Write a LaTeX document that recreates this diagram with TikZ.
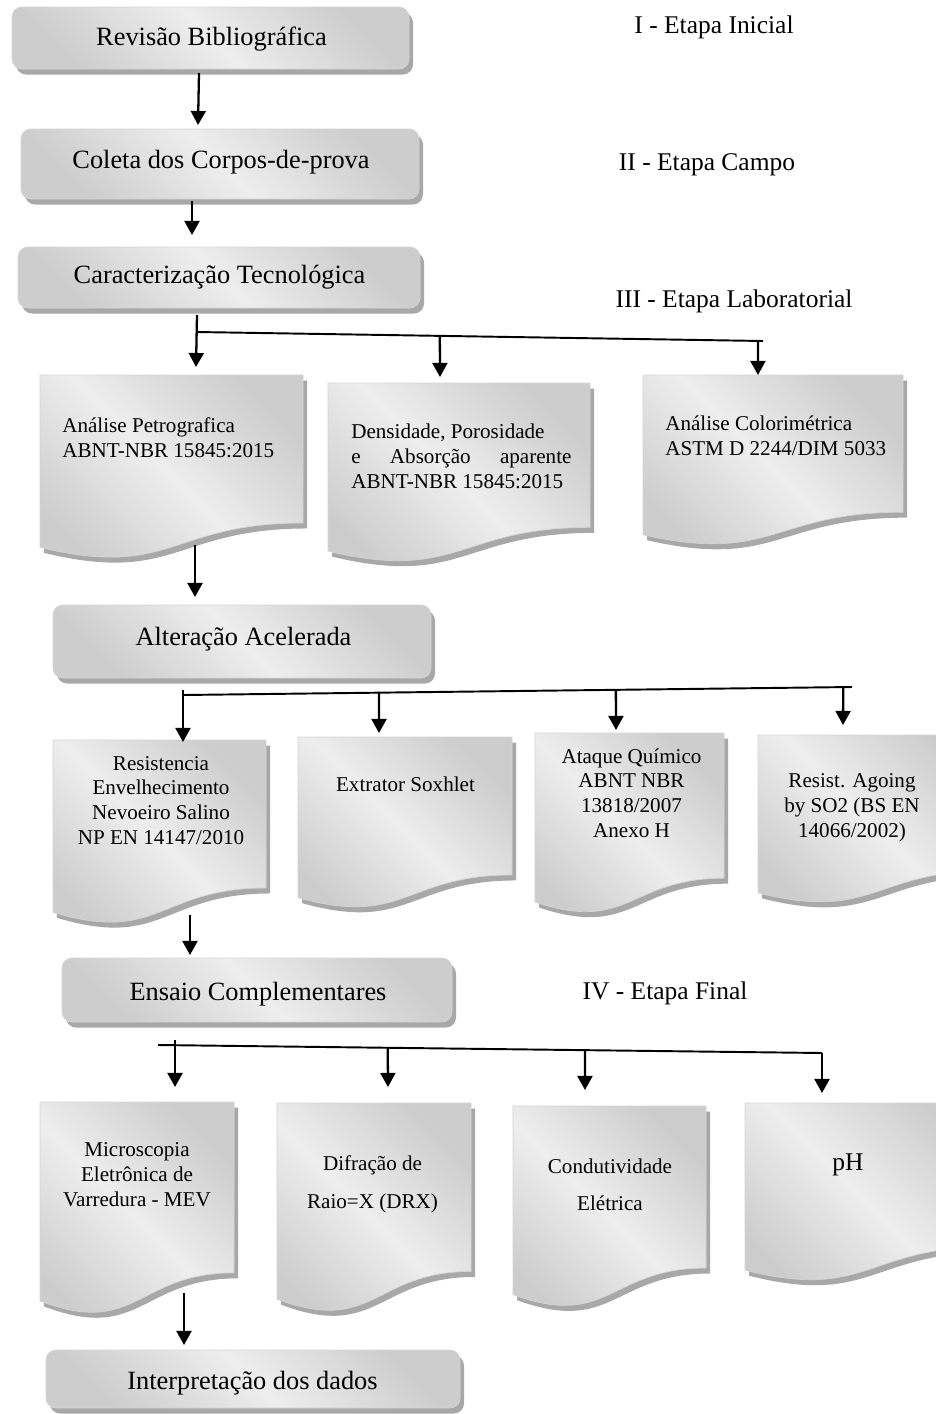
\documentclass[tikz,border=0pt]{standalone}
\usepackage{fontspec}
\setmainfont{Liberation Serif}
\usetikzlibrary{calc,arrows.meta}

\definecolor{shd}{HTML}{CDCDCD}
\definecolor{shl}{HTML}{EEEEEE}
\definecolor{shadowc}{HTML}{A8A8A8}
\definecolor{rimc}{HTML}{D4D4D4}
\pgfdeclarehorizontalshading{softgray}{100bp}{color(0bp)=(shd); color(25bp)=(shd); color(50bp)=(shl); color(75bp)=(shd); color(100bp)=(shd)}

\begin{document}
\begin{tikzpicture}[x=0.02cm,y=-0.02cm,
  frame/.style={rectangle, inner sep=0pt, outer sep=0pt, anchor=north west},
  backshadow/.style={preaction={fill=shadowc, transform canvas={shift={(0.08cm,-0.11cm)}}}},
  stagebox/.style={frame, rounded corners=0.2cm, backshadow, shading=softgray, shading angle=45, draw=rimc, line width=0.4pt},
  wavepath/.style={insert path={(#1.north west) -- (#1.north east)
      -- ($(#1.north east)!0.802!(#1.south east)$)
      .. controls ($(#1.north)!0.802!(#1.south)$) and ($(#1.north)!1.107!(#1.south)$)
      .. ($(#1.north west)!0.934!(#1.south west)$) -- cycle}},
  docshape/.style={wavepath=#1, backshadow, shading=softgray, shading angle=45, draw=rimc, line width=0.4pt},
  lbl/.style={inner sep=0pt, font=\fontsize{15}{18}\selectfont, anchor=base},
  side/.style={inner sep=0pt, font=\fontsize{14.5}{17}\selectfont, anchor=base},
  dtxt/.style={inner sep=0pt, font=\fontsize{12}{14}\selectfont, align=center, anchor=base},
  dtxtl/.style={inner sep=0pt, font=\fontsize{12}{14}\selectfont, align=left, anchor=base west},
  arr/.style={line width=1.3pt, -{Triangle[width=8.5pt,length=8pt]}},
  ln/.style={line width=1.1pt}]

\useasboundingbox (0,0) rectangle (936,1414);

% stage boxes
\node[stagebox, minimum width={397*0.02cm}, minimum height={62*0.02cm}] (rev) at (12,7) {};
\node[stagebox, minimum width={398*0.02cm}, minimum height={70*0.02cm}] (col) at (21,129) {};
\node[stagebox, minimum width={402*0.02cm}, minimum height={61*0.02cm}] (car) at (18,247) {};
\node[stagebox, minimum width={378*0.02cm}, minimum height={73*0.02cm}] (alt) at (53,605) {};
\node[stagebox, minimum width={390*0.02cm}, minimum height={64*0.02cm}] (ens) at (62,958) {};
\node[stagebox, minimum width={414*0.02cm}, minimum height={58*0.02cm}] (int) at (46,1350) {};

% document frames
\node[frame, minimum width={263*0.02cm}, minimum height={184.5*0.02cm}] (docA) at (40,375) {};
\node[frame, minimum width={262*0.02cm}, minimum height={180*0.02cm}] (docB) at (328,383) {};
\node[frame, minimum width={260*0.02cm}, minimum height={171*0.02cm}] (docC) at (643,375) {};
\node[frame, minimum width={213*0.02cm}, minimum height={184.5*0.02cm}] (docD) at (53,740) {};
\node[frame, minimum width={214*0.02cm}, minimum height={172*0.02cm}] (docE) at (298,737) {};
\node[frame, minimum width={189*0.02cm}, minimum height={181*0.02cm}] (docF) at (535,733) {};
\node[frame, minimum width={232*0.02cm}, minimum height={169*0.02cm}] (docG) at (758,735) {};
\node[frame, minimum width={194*0.02cm}, minimum height={213*0.02cm}] (docH) at (40,1102) {};
\node[frame, minimum width={194*0.02cm}, minimum height={210*0.02cm}] (docI) at (277,1103) {};
\node[frame, minimum width={193*0.02cm}, minimum height={202*0.02cm}] (docJ) at (513,1106) {};
\node[frame, minimum width={245*0.02cm}, minimum height={179*0.02cm}] (docK) at (745,1103) {};

\foreach \d in {docA,docB,docC,docD,docE,docF,docG,docH,docI,docJ,docK}
  \shade[docshape=\d];

% stage labels
\node[lbl] (tRev) at (211.5,45) {Revisão Bibliográfica};
\node[lbl] (tCol) at (221,168) {Coleta dos Corpos-de-prova};
\node[lbl] (tCar) at (219.5,283) {Caracterização Tecnológica};
\node[lbl] (tAlt) at (243.5,645) {Alteração Acelerada};
\node[lbl] (tEns) at (258,1000) {Ensaio Complementares};
\node[lbl] (tInt) at (252.5,1389) {Interpretação dos dados};

% phase labels
\node[side] (s1) at (714,33) {I - Etapa Inicial};
\node[side] (s2) at (707,170) {II - Etapa Campo};
\node[side] (s3) at (734,307) {III - Etapa Laboratorial};
\node[side] (s4) at (665,999) {IV - Etapa Final};

% document texts (placed by the baseline of their last line)
\node[dtxtl] (tA) at (62,457) {Análise Petrografica\\ABNT-NBR 15845:2015};
\node[dtxtl] (tB) at (351,488) {Densidade, Porosidade\\\makebox[125.3pt]{e\hfill Absorção\hfill aparente}\\ABNT-NBR 15845:2015};
\node[dtxtl] (tC) at (665,455) {Análise Colorimétrica\\ASTM D 2244/DIM 5033};
\node[dtxt] (tD) at (161,844) {Resistencia\\Envelhecimento\\Nevoeiro Salino\\NP EN 14147/2010};
\node[dtxt] (tE) at (405.5,791) {Extrator Soxhlet};
\node[dtxt] (tF) at (631.5,837) {Ataque Químico\\ABNT NBR\\13818/2007\\Anexo H};
\node[dtxt] (tG) at (852,837) {Resist. Agoing\\by SO2 (BS EN\\14066/2002)};
\node[dtxt] (tH) at (137,1206) {Microscopia\\Eletrônica de\\Varredura - MEV};
\node[dtxt, font=\fontsize{12}{21.5}\selectfont] (tI) at (372.5,1208) {Difração de\\Raio=X (DRX)};
\node[dtxt, font=\fontsize{12}{20.5}\selectfont] (tJ) at (610,1210) {Condutividade\\Elétrica};
\node[dtxt, font=\fontsize{14.5}{17}\selectfont] (tK) at (848,1170) {pH};

% connectors: top chain
\draw[arr] ($(rev.south west)+(187,4)$) -- ($(col.north west)+(177,-4)$);
\draw[arr] ($(col.south west)+(171,2)$) -- ($(car.north west)+(174,-12)$);

% branch to laboratory tests
\coordinate (j1) at (197,332);
\coordinate (j1r) at (763,341);
\draw[ln] (j1) -- (j1r);
\draw[arr] ($(car.south west)+(179,7)$) -- ($(docA.north west)+(156,-8)$);
\draw[arr] ($(j1)!0.429!(j1r)$) -- ($(docB.north west)+(112,-6)$);
\draw[arr] ($(j1)!0.991!(j1r)$) -- ($(docC.north west)+(115,0)$);
\draw[arr] ($(docA.north west)+(155,170)$) -- ($(alt.north west)+(142,-8)$);

% branch to ageing tests
\coordinate (j2) at (183,695);
\coordinate (j2r) at (852,687);
\draw[ln] (j2) -- (j2r);
\draw[arr] ($(alt.south west)+(130,12)$) -- ($(docD.north west)+(130,2)$);
\draw[arr] ($(j2)!0.293!(j2r)$) -- ($(docE.north west)+(81,-4)$);
\draw[arr] ($(j2)!0.647!(j2r)$) -- ($(docF.north west)+(81,-3)$);
\draw[arr] ($(j2)!0.987!(j2r)$) -- ($(docG.north west)+(85,-10)$);
\draw[arr] ($(docD.north west)+(137,175)$) -- ($(ens.north west)+(128,-3)$);

% branch to complementary tests
\coordinate (j3) at (158,1045);
\coordinate (j3r) at (822,1053);
\draw[ln] (j3) -- (j3r);
\draw[arr] ($(ens.south west)+(113,18)$) -- ($(docH.north west)+(135,-15)$);
\draw[arr] ($(j3)!0.346!(j3r)$) -- ($(docI.north west)+(111,-16)$);
\draw[arr] ($(j3)!0.643!(j3r)$) -- ($(docJ.north west)+(72,-16)$);
\draw[arr] ($(j3)!1!(j3r)$) -- ($(docK.north west)+(77,-10)$);
\draw[arr] ($(docH.north west)+(144,191)$) -- ($(int.north west)+(138,-5)$);
\end{tikzpicture}
\end{document}
